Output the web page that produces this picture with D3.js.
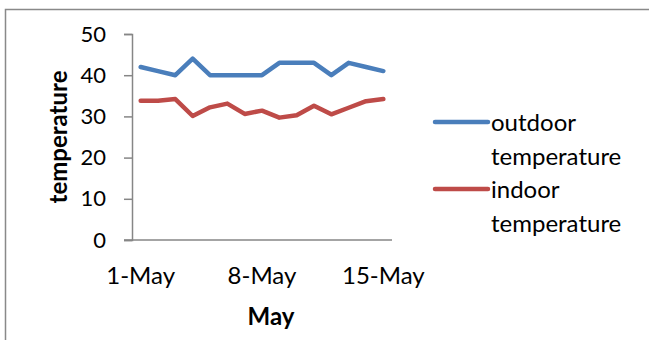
<!DOCTYPE html>
<html>
<head>
<meta charset="utf-8">
<script src="https://cdn.jsdelivr.net/npm/d3@7/dist/d3.min.js"></script>
<style>
  html, body { margin: 0; padding: 0; background: #fff; }
  svg { display: block; }
  text { font-family: Lato, "Open Sans", sans-serif; fill: #000; }
</style>
</head>
<body>
<svg id="chart" width="649" height="340"></svg>
<script>
// Daily readings for the first half of May
const days = ["1-May","2-May","3-May","4-May","5-May","6-May","7-May","8-May",
              "9-May","10-May","11-May","12-May","13-May","14-May","15-May"];
const outdoor = [42, 41, 40, 44, 40, 40, 40, 40, 43, 43, 43, 40, 43, 42, 41];
const indoor  = [33.8, 33.8, 34.2, 30.1, 32.2, 33.1, 30.6, 31.4, 29.7, 30.3, 32.6, 30.5, 32.1, 33.7, 34.2];
const yTicks = [0, 10, 20, 30, 40, 50];
const xTickLabels = ["1-May", "8-May", "15-May"];
const seriesNames = ["outdoor temperature", "indoor temperature"];
const seriesColors = ["#4A7EBB", "#BE4B48"];

const svg = d3.select("#chart");

// Outer chart frame (open on the right and bottom edges of the view)
svg.append("rect")
  .attr("x", 5.5).attr("y", 9.5)
  .attr("width", 700).attr("height", 400)
  .attr("fill", "#fff")
  .attr("stroke", "#898989").attr("stroke-width", 1.5);

const plot = { left: 132, right: 392, top: 34, bottom: 240 };

const x = d3.scaleBand().domain(days).range([plot.left, plot.right]);
const y = d3.scaleLinear().domain([0, 50]).range([plot.bottom, plot.top]);
const cx = d => x(d) + x.bandwidth() / 2;

const axisColor = "#868686";

// Y axis
const yAxis = svg.append("g")
  .attr("transform", `translate(${plot.left},0)`)
  .call(d3.axisLeft(y).tickValues(yTicks).tickSize(8).tickPadding(18));
yAxis.select(".domain").attr("stroke", axisColor).attr("stroke-width", 1.5);
yAxis.selectAll(".tick line").attr("stroke", axisColor).attr("stroke-width", 1.5);
yAxis.selectAll(".tick text")
  .attr("font-size", 22).attr("font-family", "Lato, sans-serif").attr("fill", "#000");

// X axis baseline
svg.append("line")
  .attr("x1", plot.left - 8).attr("x2", plot.right)
  .attr("y1", y(0)).attr("y2", y(0))
  .attr("stroke", axisColor).attr("stroke-width", 1.5);

// X tick labels (weekly)
svg.append("g").selectAll("text")
  .data(xTickLabels).join("text")
  .attr("x", d => cx(d)).attr("y", 284)
  .attr("text-anchor", "middle")
  .attr("font-size", 24)
  .text(d => d);

// Axis titles
svg.append("text")
  .attr("x", 271).attr("y", 325)
  .attr("text-anchor", "middle")
  .attr("font-size", 24).attr("font-weight", "bold")
  .text("May");

svg.append("text")
  .attr("transform", `translate(67,${(plot.top + plot.bottom) / 2}) rotate(-90)`)
  .attr("text-anchor", "middle")
  .attr("font-size", 24).attr("font-weight", "bold")
  .text("temperature");

// Series lines
const line = d3.line()
  .x((d, i) => cx(days[i]))
  .y(d => y(d));

[outdoor, indoor].forEach((vals, k) => {
  svg.append("path")
    .datum(vals)
    .attr("d", line)
    .attr("fill", "none")
    .attr("stroke", seriesColors[k])
    .attr("stroke-width", 4.5)
    .attr("stroke-linejoin", "round")
    .attr("stroke-linecap", "round");
});

// Legend
const legend = svg.append("g");
seriesNames.forEach((name, k) => {
  const top = 122 + k * 67;
  legend.append("line")
    .attr("x1", 435).attr("x2", 488)
    .attr("y1", top).attr("y2", top)
    .attr("stroke", seriesColors[k]).attr("stroke-width", 4.5)
    .attr("stroke-linecap", "round");
  const words = name.split(" ");
  words.forEach((w, j) => {
    legend.append("text")
      .attr("x", 491).attr("y", top + 9 + j * 34)
      .attr("font-size", 24)
      .text(w);
  });
});
</script>
</body>
</html>
